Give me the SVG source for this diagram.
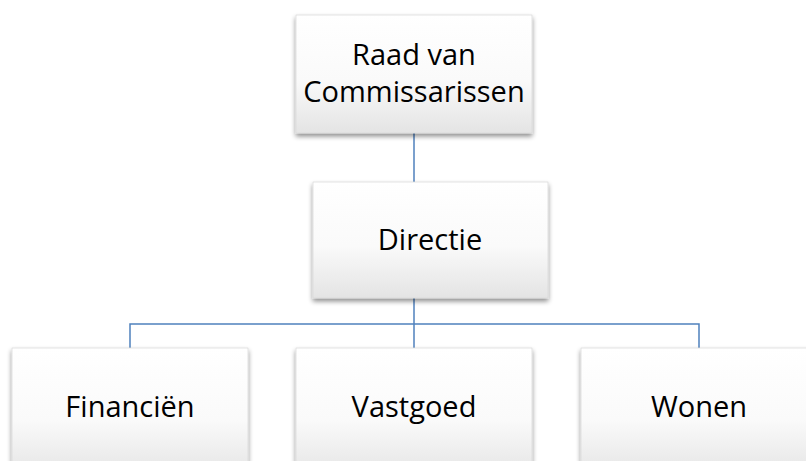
<svg xmlns="http://www.w3.org/2000/svg" width="806" height="461" viewBox="0 0 806 461">
<defs>
<linearGradient id="g" x1="0" y1="0" x2="0" y2="1">
<stop offset="0" stop-color="#ffffff"/>
<stop offset="0.55" stop-color="#fafafa"/>
<stop offset="1" stop-color="#e4e4e4"/>
</linearGradient>
<filter id="sh" x="-10%" y="-10%" width="125%" height="130%">
<feGaussianBlur in="SourceAlpha" stdDeviation="2.5"/>
<feOffset dx="0" dy="2.5" result="b"/>
<feComponentTransfer><feFuncA type="linear" slope="0.45"/></feComponentTransfer>
<feMerge><feMergeNode/><feMergeNode in="SourceGraphic"/></feMerge>
</filter>
</defs>
<style>
.box{fill:url(#g);stroke:#d9d9d9;stroke-width:0.75;filter:url(#sh)}
.t{font-family:"Open Sans","Liberation Sans",sans-serif;font-size:29px;fill:#000;text-anchor:middle}
.c{fill:none;stroke:#4f81bd;stroke-width:1.5}
</style>
<rect width="806" height="461" fill="#ffffff"/>
<g id="connectors">
<path class="c" d="M414 133 V182"/>
<path class="c" d="M414 298 V348"/>
<path class="c" d="M130 348 V324 H699 V348"/>
</g>
<g id="raad">
<rect class="box" x="296" y="15" width="236" height="118"/>
<text class="t" x="414" y="65">Raad van</text>
<text class="t" x="414" y="102">Commissarissen</text>
</g>
<g id="directie">
<rect class="box" x="313" y="182" width="235" height="116"/>
<text class="t" x="430" y="250">Directie</text>
</g>
<g id="financien">
<rect class="box" x="12" y="348" width="236" height="130"/>
<text class="t" x="130" y="417">Financiën</text>
</g>
<g id="vastgoed">
<rect class="box" x="296" y="348" width="236" height="130"/>
<text class="t" x="414" y="417">Vastgoed</text>
</g>
<g id="wonen">
<rect class="box" x="581" y="348" width="236" height="130"/>
<text class="t" x="699" y="417">Wonen</text>
</g>
</svg>
